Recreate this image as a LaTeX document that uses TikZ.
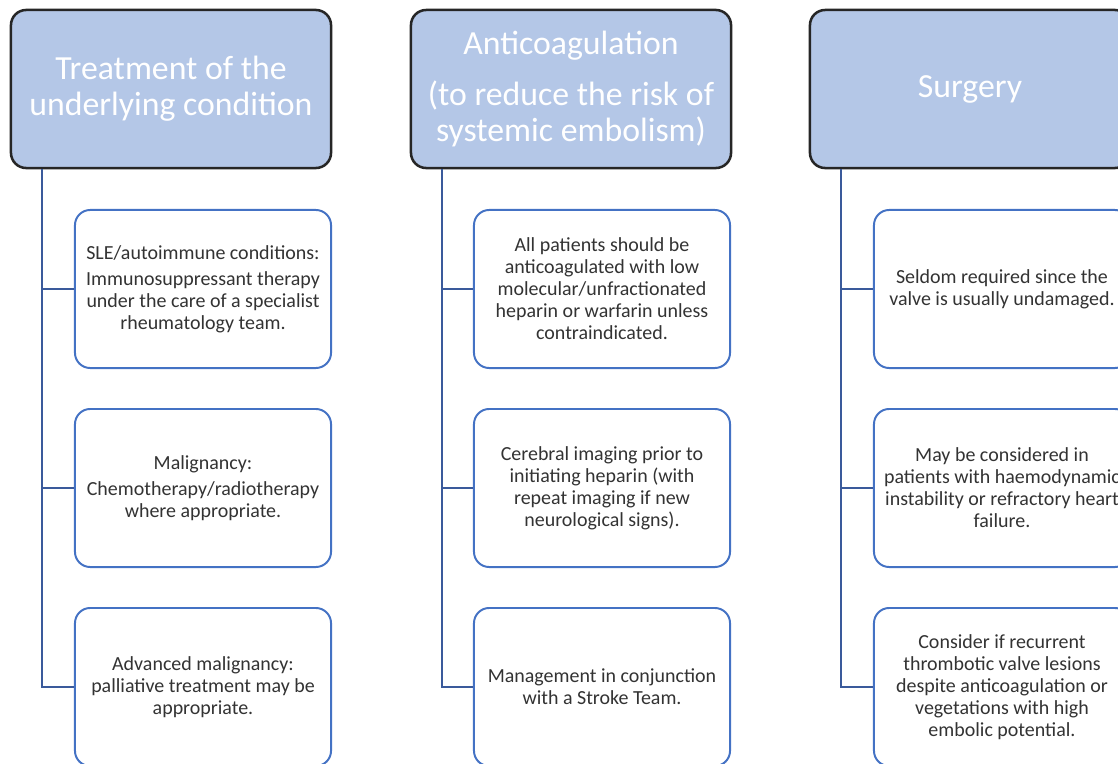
\documentclass[tikz,border=0pt]{standalone}
\usepackage{fontspec}
\setmainfont{Carlito}
\usetikzlibrary{positioning}

\definecolor{headfill}{HTML}{B4C7E7}
\definecolor{headline}{HTML}{262626}
\definecolor{boxline}{HTML}{4472C4}
\definecolor{linkline}{HTML}{3A5A9B}

\tikzset{
    headbox/.style={draw=headline, fill=headfill, line width=1.8pt, rounded corners=0.38cm,
        minimum width=8cm, minimum height=3.95cm, align=center, text=white,
        font=\fontsize{24}{25.5}\selectfont},
    itembox/.style={draw=boxline, fill=white, line width=1.4pt, rounded corners=0.38cm,
        minimum width=6.4cm, minimum height=3.95cm, align=center, text=black!80,
        font=\fontsize{14.2}{15.6}\selectfont},
    link/.style={draw=linkline, line width=1.6pt}
}

\begin{document}
\begin{tikzpicture}[x=0.025cm, y=-0.025cm]
    % Page area of the reference
    \clip (0,0) rectangle (1118,763);

    % Header boxes
    \node[headbox] (head1) at (171,89) {Treatment of the\\underlying condition};
    \node[headbox] (head2) at (571,89) {Anticoagulation\\[11pt](to reduce the risk of\\systemic embolism)};
    \node[headbox] (head3) at (970,89) {Surgery};

    % First column
    \node[itembox] (box11) at (203,289) {SLE/autoimmune conditions:\\[3pt]Immunosuppressant therapy\\under the care of a specialist\\rheumatology team.};
    \node[itembox] (box12) at (203,488) {Malignancy:\\[3pt]Chemotherapy/radiotherapy\\where appropriate.};
    \node[itembox] (box13) at (203,687) {Advanced malignancy:\\palliative treatment may be\\appropriate.};

    % Second column
    \node[itembox] (box21) at (602,289) {All patients should be\\anticoagulated with low\\molecular/unfractionated\\heparin or warfarin unless\\contraindicated.};
    \node[itembox] (box22) at (602,488) {Cerebral imaging prior to\\initiating heparin (with\\repeat imaging if new\\neurological signs).};
    \node[itembox] (box23) at (602,687) {Management in conjunction\\with a Stroke Team.};

    % Third column
    \node[itembox] (box31) at (1002,289) {Seldom required since the\\valve is usually undamaged.};
    \node[itembox] (box32) at (1002,488) {May be considered in\\patients with haemodynamic\\instability or refractory heart\\failure.};
    \node[itembox] (box33) at (1002,687) {Consider if recurrent\\thrombotic valve lesions\\despite anticoagulation or\\vegetations with high\\embolic potential.};

    % Connectors from each header down to its boxes
    \foreach \col in {1,2,3} {
        \draw[link] ([xshift=0.8cm]head\col.south west) |- (box\col3.west);
        \foreach \row in {1,2}
            \draw[link] (box\col\row.west) -| ([xshift=0.8cm]head\col.south west);
    }
\end{tikzpicture}
\end{document}
